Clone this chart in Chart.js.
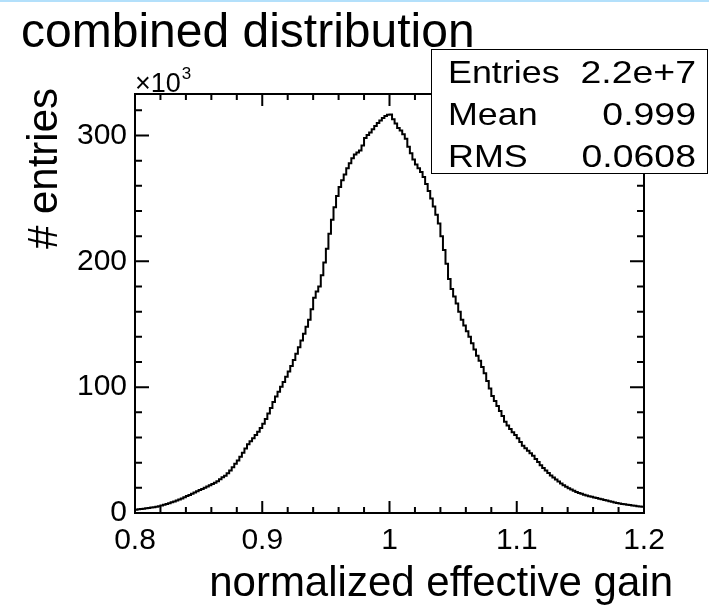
<!DOCTYPE html>
<html>
<head>
    <meta charset="utf-8" />
    <title>combined distribution</title>
    <script src="https://cdn.jsdelivr.net/npm/chart.js@4.4.0/dist/chart.umd.min.js"></script>
    <style>
        html, body { margin: 0; padding: 0; background: #ffffff; }
        #wrap { position: relative; width: 709px; height: 606px; overflow: hidden; }
        #topline { position: absolute; left: 0; top: 0; width: 709px; height: 2px; background: #b3e0fb; }
    </style>
</head>
<body>
<div id="wrap">
    <canvas id="gain" width="709" height="606"></canvas>
    <div id="topline"></div>
</div>

<script>
    // histogram: 200 bins from 0.8 to 1.2, contents in units of 10^3
    var xMin = 0.8;
    var xMax = 1.2;
    var binWidth = 0.002;
    var binValues = [
        2.6, 2.9, 3.2, 3.4, 3.7, 4.0, 4.3, 4.6, 5.0, 5.4,
        5.9, 6.5, 7.1, 7.8, 8.5, 9.2, 10.0, 10.8, 11.6, 12.6,
        13.5, 14.4, 15.3, 16.2, 17.2, 18.2, 19.1, 20.0, 21.0, 22.0,
        23.0, 24.0, 25.3, 26.8, 28.4, 29.6, 31.6, 33.8, 36.4, 39.2,
        41.8, 44.8, 47.9, 51.2, 54.6, 57.0, 59.5, 62.0, 64.6, 67.5,
        71.0, 74.8, 79.0, 83.5, 88.2, 92.5, 96.4, 100.3, 104.2, 108.2,
        112.5, 116.8, 121.5, 126.6, 131.8, 137.0, 142.5, 148.0, 153.5, 162,
        171, 176, 180, 189, 199, 210, 222, 233, 243, 252,
        259, 264.5, 269, 274, 278, 282, 285, 286.5, 288, 292,
        298, 300.5, 302.5, 305, 307.5, 310, 312, 314, 315.5, 316.5,
        316.8, 313, 309.5, 306, 304, 301, 297.5, 291, 286, 281,
        277, 274, 271, 267, 261.5, 256, 250, 243.5, 237, 230,
        220, 209, 198, 186, 178, 172, 166.5, 160, 153.5, 149,
        144.5, 140, 135, 130, 125, 121, 116, 111, 105, 99,
        93, 89, 85, 81, 77, 72.5, 69.5, 66.8, 64.2, 62,
        59.5, 56.5, 53.5, 51.5, 49.5, 47.5, 45.5, 43, 40.5, 38,
        35.8, 33.8, 31.8, 29.8, 28.2, 26.6, 25, 23.4, 22, 20.8,
        19.6, 18.6, 17.6, 16.6, 15.8, 15.2, 14.6, 14.0, 13.4, 12.9,
        12.4, 11.9, 11.4, 10.9, 10.4, 9.9, 9.4, 8.9, 8.4, 8.0,
        7.6, 7.2, 6.9, 6.6, 6.3, 6.0, 5.7, 5.4, 5.1, 4.9
    ];
    var yMax = 333;

    var titleText = "combined distribution";
    var xTitle = "normalized effective gain";
    var yTitle = "# entries";
    var statLabels = ["Entries", "Mean", "RMS"];
    var statValues = ["2.2e+7", "0.999", "0.0608"];

    var fontName = "'Liberation Sans', Arial, Helvetica, sans-serif";

    // points at the left edge of each bin, plus the right edge of the last one
    var points = [];
    for (var i = 0; i < binValues.length; i++) {
        points.push({ x: xMin + i * binWidth, y: binValues[i] });
    }
    points.push({ x: xMax, y: binValues[binValues.length - 1] });

    // stretched text, the stats box glyphs are wider than plain Arial
    function wideText(ctx, text, x, y, sx) {
        ctx.save();
        ctx.translate(x, y);
        ctx.scale(sx, 1);
        ctx.fillText(text, 0, 0);
        ctx.restore();
    }

    // ROOT style frame, inner ticks, titles and stats box
    var rootStyle = {
        id: "rootStyle",
        afterDatasetsDraw: function (chart) {
            var ctx = chart.ctx;
            var a = chart.chartArea;
            var xs = chart.scales.x;
            var ys = chart.scales.y;
            ctx.save();
            ctx.strokeStyle = "#000";
            ctx.lineWidth = 2;
            ctx.strokeRect(a.left, a.top, a.right - a.left, a.bottom - a.top);

            ctx.beginPath();
            for (var k = 0; k <= 20; k++) {
                var px = xs.getPixelForValue(xMin + k * 0.02);
                var len = (k % 5 === 0) ? 12 : 6;
                ctx.moveTo(px, a.bottom); ctx.lineTo(px, a.bottom - len);
                ctx.moveTo(px, a.top); ctx.lineTo(px, a.top + len);
            }
            for (var v = 0; v <= yMax; v += 20) {
                var py = ys.getPixelForValue(v);
                var ylen = (v % 100 === 0) ? 14 : 7;
                ctx.moveTo(a.left, py); ctx.lineTo(a.left + ylen, py);
                ctx.moveTo(a.right, py); ctx.lineTo(a.right - ylen, py);
            }
            ctx.stroke();

            ctx.fillStyle = "#000";
            // title
            ctx.font = "48px " + fontName;
            ctx.textAlign = "left";
            ctx.textBaseline = "alphabetic";
            wideText(ctx, titleText, 21, 47, 1.0);

            // x10^3
            ctx.font = "27px " + fontName;
            ctx.fillText("\u00d710", a.left, 92);
            var w = ctx.measureText("\u00d710").width;
            ctx.font = "17px " + fontName;
            ctx.fillText("3", a.left + w + 1, 79);

            // axis titles
            ctx.font = "42px " + fontName;
            ctx.textAlign = "right";
            ctx.fillText(xTitle, 673, 596);
            ctx.save();
            ctx.translate(57, 88);
            ctx.rotate(-Math.PI / 2);
            ctx.fillText(yTitle, 0, 0);
            ctx.restore();

            // stats box
            ctx.fillStyle = "#fff";
            ctx.fillRect(431, 49, 277, 125);
            ctx.lineWidth = 1;
            ctx.strokeStyle = "#000";
            ctx.strokeRect(431.5, 49.5, 276, 124);
            ctx.fillStyle = "#000";
            ctx.font = "32px " + fontName;
            for (var s = 0; s < statLabels.length; s++) {
                var by = 83 + s * 42;
                ctx.textAlign = "left";
                wideText(ctx, statLabels[s], 448, by, 1.12);
                ctx.textAlign = "right";
                wideText(ctx, statValues[s], 696, by, 1.17);
            }
            ctx.restore();
        }
    };

    var ctx = document.getElementById("gain").getContext("2d");
    var chart = new Chart(ctx, {
        type: "line",
        data: {
            datasets: [
                {
                    label: "gain",
                    data: points,
                    stepped: true,
                    borderColor: "#000",
                    borderWidth: 2,
                    pointRadius: 0,
                    fill: false,
                    tension: 0
                }
            ]
        },
        options: {
            responsive: false,
            animation: false,
            layout: { padding: { left: 0, top: 94, right: 65, bottom: 0 } },
            plugins: {
                legend: { display: false },
                tooltip: { enabled: false }
            },
            scales: {
                x: {
                    type: "linear",
                    min: xMin,
                    max: xMax,
                    border: { display: false },
                    grid: { display: false, drawTicks: false },
                    ticks: {
                        stepSize: 0.1,
                        padding: 10,
                        color: "#000",
                        font: { family: fontName, size: 30 },
                        maxRotation: 0,
                        callback: function (v) { return String(Math.round(v * 10) / 10); }
                    },
                    afterFit: function (scale) { scale.height = 93; }
                },
                y: {
                    min: 0,
                    max: yMax,
                    border: { display: false },
                    grid: { display: false, drawTicks: false },
                    ticks: {
                        stepSize: 100,
                        includeBounds: false,
                        padding: 8,
                        color: "#000",
                        font: { family: fontName, size: 30 }
                    },
                    afterFit: function (scale) { scale.width = 135; }
                }
            }
        },
        plugins: [rootStyle]
    });
</script>
</body>
</html>
